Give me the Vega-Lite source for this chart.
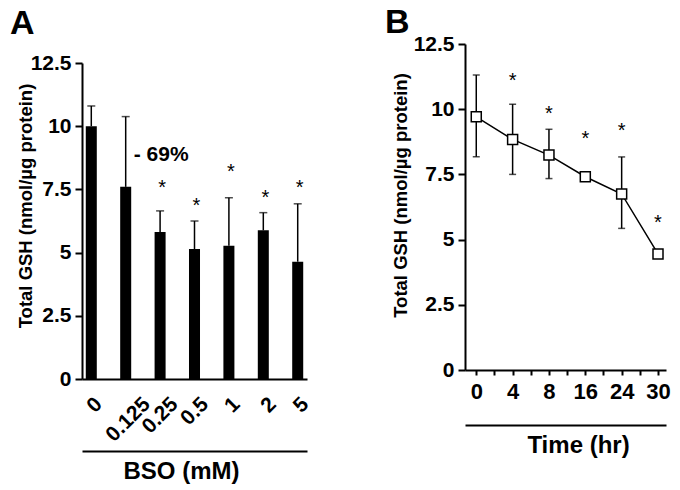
{
  "$schema": "https://vega.github.io/schema/vega-lite/v6.json",
  "background": "white",
  "padding": {"left": 10, "top": 6, "right": 5, "bottom": 5},
  "spacing": 72,
  "config": {
    "view": {"stroke": null},
    "font": "Liberation Sans",
    "axis": {"domainColor": "black", "domainWidth": 2, "tickColor": "black", "tickWidth": 2, "labelColor": "black", "labelFont": "Liberation Sans", "labelFontWeight": "bold", "titleFont": "Liberation Sans", "titleFontWeight": "bold", "titleColor": "black", "grid": false},
    "title": {"font": "Liberation Sans", "fontWeight": "bold", "fontSize": 34, "color": "black", "anchor": "start", "frame": "group"}
  },
  "datasets": {
    "bso": [
      {"bso": "0", "mean": 10.0, "upper": 10.8},
      {"bso": "0.125", "mean": 7.6, "upper": 10.38},
      {"bso": "0.25", "mean": 5.81, "upper": 6.65},
      {"bso": "0.5", "mean": 5.14, "upper": 6.25},
      {"bso": "1", "mean": 5.27, "upper": 7.17},
      {"bso": "2", "mean": 5.88, "upper": 6.58},
      {"bso": "5", "mean": 4.64, "upper": 6.93}
    ],
    "bsoStars": [
      {"bso": "0.25", "star": 7.7},
      {"bso": "0.5", "star": 7.0},
      {"bso": "1", "star": 8.35},
      {"bso": "2", "star": 7.32},
      {"bso": "5", "star": 7.71}
    ],
    "bsoNote": [
      {"bso": "0.125", "y": 8.85, "label": "- 69%"}
    ],
    "time": [
      {"time": "0", "idx": 0, "mean": 9.71, "lower": 8.18, "upper": 11.31},
      {"time": "4", "idx": 1, "mean": 8.84, "lower": 7.5, "upper": 10.19},
      {"time": "8", "idx": 2, "mean": 8.24, "lower": 7.34, "upper": 9.23},
      {"time": "16", "idx": 3, "mean": 7.41, "lower": null, "upper": null},
      {"time": "24", "idx": 4, "mean": 6.75, "lower": 5.43, "upper": 8.17},
      {"time": "30", "idx": 5, "mean": 4.45, "lower": null, "upper": null}
    ],
    "timeStars": [
      {"time": "4", "idx": 1, "star": 11.25},
      {"time": "8", "idx": 2, "star": 9.97},
      {"time": "16", "idx": 3, "star": 9.01},
      {"time": "24", "idx": 4, "star": 9.33},
      {"time": "30", "idx": 5, "star": 5.79}
    ],
    "empty": []
  },
  "hconcat": [
    {
      "spacing": 0,
      "vconcat": [
        {
          "title": {"text": "A", "dx": -72, "offset": 3},
          "width": 225,
          "height": 8,
          "data": {"name": "empty"},
          "mark": "point"
        },
        {
          "width": 225,
          "height": 316,
          "layer": [
            {
              "data": {"name": "bso"},
              "mark": {"type": "bar", "color": "black"},
              "encoding": {
                "x": {"field": "bso", "type": "ordinal", "sort": null,
                  "scale": {"domain": ["0", "0.125", "0.25", "0.5", "1", "2", "5"], "paddingInner": 0.68, "paddingOuter": 0.11},
                  "axis": {"orient": "bottom", "title": null, "ticks": false, "labelAngle": -45, "labelAlign": "right", "labelBaseline": "top", "labelFontSize": 21, "labelPadding": 14, "labelOffset": {"expr": "datum.label == '0.125' ? 13.5 : datum.label == '0.25' ? 7 : datum.label == '0.5' ? 3 : datum.label == '2' ? 2 : 0"}}},
                "y": {"field": "mean", "type": "quantitative", "title": "Total GSH (nmol/µg protein)",
                  "scale": {"domain": [0, 12.5], "nice": false},
                  "axis": {"values": [0, 2.5, 5, 7.5, 10, 12.5], "labelExpr": "'' + datum.value", "tickSize": 7, "labelFontSize": 21, "labelPadding": 4, "titleFontSize": 18.5, "titleX": -51, "titleY": 142.5, "titleBaseline": "alphabetic"}}
              }
            },
            {
              "data": {"name": "bso"},
              "mark": {"type": "rule", "strokeWidth": 1.5, "color": "black"},
              "encoding": {
                "x": {"field": "bso", "type": "ordinal", "sort": null,
                  "axis": {"orient": "bottom", "offset": 72, "labels": false, "ticks": false, "title": "BSO (mM)", "titleFontSize": 24, "titlePadding": 8, "titleX": 99}},
                "y": {"field": "mean", "type": "quantitative", "title": "Total GSH (nmol/µg protein)"},
                "y2": {"field": "upper"}
              }
            },
            {
              "data": {"name": "bso"},
              "mark": {"type": "tick", "size": 8, "thickness": 1.5, "color": "black"},
              "encoding": {
                "x": {"field": "bso", "type": "ordinal", "sort": null, "axis": null},
                "y": {"field": "upper", "type": "quantitative", "title": "Total GSH (nmol/µg protein)"}
              }
            },
            {
              "data": {"name": "bsoStars"},
              "mark": {"type": "text", "fontSize": 20, "dy": 4, "dx": 2, "color": "black", "font": "Liberation Sans"},
              "encoding": {
                "x": {"field": "bso", "type": "ordinal", "sort": null, "axis": null},
                "y": {"field": "star", "type": "quantitative", "title": "Total GSH (nmol/µg protein)"},
                "text": {"value": "*"}
              }
            },
            {
              "data": {"name": "bsoNote"},
              "mark": {"type": "text", "fontSize": 21, "fontWeight": "bold", "align": "left", "baseline": "middle", "dx": 8, "color": "black", "font": "Liberation Sans"},
              "encoding": {
                "x": {"field": "bso", "type": "ordinal", "sort": null, "axis": null},
                "y": {"field": "y", "type": "quantitative", "title": "Total GSH (nmol/µg protein)"},
                "text": {"field": "label"}
              }
            }
          ],
          "resolve": {"axis": {"x": "independent"}}
        }
      ]
    },
    {
      "vconcat": [
        {
          "title": {"text": "B", "dx": -80, "offset": -7},
          "width": 201,
          "height": 326,
          "layer": [
            {
              "data": {"name": "time"},
              "mark": {"type": "line", "color": "black", "strokeWidth": 1.5},
              "encoding": {
                "x": {"field": "idx", "type": "quantitative",
                  "scale": {"domain": [-0.31, 5.22], "nice": false, "zero": false},
                  "axis": {"orient": "bottom", "title": null, "values": [0, 0.5, 1, 1.5, 2, 2.5, 3, 3.5, 4, 4.5, 5], "labelExpr": "datum.value % 1 === 0 ? ['0','4','8','16','24','30'][datum.value] : ''", "tickSize": 5, "labelFontSize": 22, "labelPadding": 6, "labelFlush": false, "labelOverlap": false}},
                "y": {"field": "mean", "type": "quantitative", "title": "Total GSH (nmol/µg protein)",
                  "scale": {"domain": [0, 12.5], "nice": false},
                  "axis": {"values": [0, 2.5, 5, 7.5, 10, 12.5], "labelExpr": "'' + datum.value", "tickSize": 7, "labelFontSize": 21, "labelPadding": 4, "titleFontSize": 18.5, "titleX": -59, "titleY": 151, "titleBaseline": "alphabetic"}}
              }
            },
            {
              "data": {"name": "time"},
              "mark": {"type": "rule", "strokeWidth": 1.5, "color": "black"},
              "encoding": {
                "x": {"field": "idx", "type": "quantitative",
                  "axis": {"orient": "bottom", "offset": 55, "labels": false, "ticks": false, "title": "Time (hr)", "titleFontSize": 24, "titlePadding": 8, "titleX": 113}},
                "y": {"field": "lower", "type": "quantitative", "title": "Total GSH (nmol/µg protein)"},
                "y2": {"field": "upper"}
              }
            },
            {
              "data": {"name": "time"},
              "mark": {"type": "tick", "orient": "horizontal", "size": 7, "thickness": 1.5, "color": "black"},
              "encoding": {
                "x": {"field": "idx", "type": "quantitative", "axis": null},
                "y": {"field": "upper", "type": "quantitative", "title": "Total GSH (nmol/µg protein)"}
              }
            },
            {
              "data": {"name": "time"},
              "mark": {"type": "tick", "orient": "horizontal", "size": 7, "thickness": 1.5, "color": "black"},
              "encoding": {
                "x": {"field": "idx", "type": "quantitative", "axis": null},
                "y": {"field": "lower", "type": "quantitative", "title": "Total GSH (nmol/µg protein)"}
              }
            },
            {
              "data": {"name": "time"},
              "mark": {"type": "point", "shape": "square", "size": 100, "filled": true, "fill": "white", "stroke": "black", "strokeWidth": 1.5, "opacity": 1},
              "encoding": {
                "x": {"field": "idx", "type": "quantitative", "axis": null},
                "y": {"field": "mean", "type": "quantitative", "title": "Total GSH (nmol/µg protein)"}
              }
            },
            {
              "data": {"name": "timeStars"},
              "mark": {"type": "text", "fontSize": 20, "dy": 4, "color": "black", "font": "Liberation Sans"},
              "encoding": {
                "x": {"field": "idx", "type": "quantitative", "axis": null},
                "y": {"field": "star", "type": "quantitative", "title": "Total GSH (nmol/µg protein)"},
                "text": {"value": "*"}
              }
            }
          ],
          "resolve": {"axis": {"x": "independent"}}
        }
      ]
    }
  ]
}
